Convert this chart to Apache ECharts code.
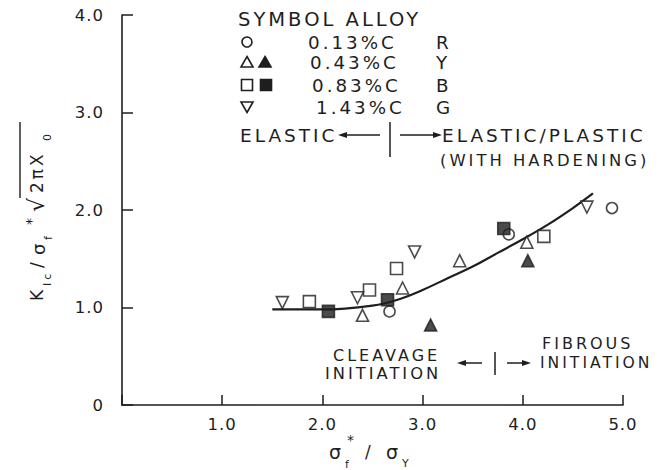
<!DOCTYPE html>
<html><head><meta charset="utf-8">
<script src="https://cdn.jsdelivr.net/npm/echarts@6/dist/echarts.min.js"></script>
<style>html,body{margin:0;padding:0;background:#fff}#c{width:662px;height:470px}#c text{letter-spacing:3px}#c text[style*="16.5px"]{letter-spacing:1px}</style>
</head><body><div id="c"></div>
<script>
// ---- data ----
const yTickLabels = ['0', '1.0', '2.0', '3.0', '4.0'];
const xTickLabels = ['', '1.0', '2.0', '3.0', '4.0', '5.0'];
const c013Open   = [[2.67,0.96],[3.86,1.75],[4.89,2.02]];
const c043Open   = [[2.40,0.92],[2.80,1.20],[3.37,1.48],[4.04,1.67]];
const c043Filled = [[3.08,0.82],[4.05,1.48]];
const c083Open   = [[1.87,1.06],[2.47,1.18],[2.74,1.40],[4.21,1.73]];
const c083Filled = [[2.06,0.96],[2.65,1.08],[3.81,1.81]];
const c143Open   = [[1.60,1.05],[2.35,1.10],[2.92,1.57],[4.64,2.03]];
const fitCurve   = [[1.50,0.98],[2.00,0.98],[2.50,1.02],[2.75,1.08],[3.00,1.18],[3.25,1.30],[3.50,1.42],[3.75,1.56],[4.00,1.70],[4.25,1.85],[4.50,2.02],[4.70,2.17]];
const legendRows = [
  {alloy:'0.13%C', code:'R'},
  {alloy:'0.43%C', code:'Y'},
  {alloy:'0.83%C', code:'B'},
  {alloy:'1.43%C', code:'G'}
];

const INK = '#1e1e1e';
const FF = '"DejaVu Sans", sans-serif';
const chart = echarts.init(document.getElementById('c'), null, {renderer:'svg'});

function T(text, x, y, size, align) {
  const a = align || 'left';
  return {type:'text', x:x, y:y, silent:true,
    style:{text:text, font: size + 'px ' + FF, fill:INK,
      textAlign:a, textVerticalAlign:'middle', align:a, verticalAlign:'middle'}};
}
function L(x1,y1,x2,y2,w){ return {type:'line', silent:true, shape:{x1,y1,x2,y2}, style:{stroke:INK, lineWidth:w||1.5}}; }
function arrowHead(x,y,dir){ // dir -1 left, 1 right
  return {type:'polygon', silent:true, shape:{points:[[x,y],[x-dir*9,y-3],[x-dir*9,y+3]]}, style:{fill:INK}};
}

const openSym = {color:'#fff', borderColor:INK, borderWidth:1.6};
const fillSym = {color:INK, borderColor:INK, borderWidth:1.6};

const rowY = [42, 62, 85, 107];
const alloyX = [308, 310, 312, 316];
const graphic = [
  T('SYMBOL ALLOY', 238, 19, 19.5),
  // legend symbols
  {type:'circle', silent:true, shape:{cx:247, cy:rowY[0], r:5}, style:{fill:'#fff', stroke:INK, lineWidth:1.6}},
  {type:'polygon', silent:true, shape:{points:[[247,rowY[1]-5.5],[253,rowY[1]+5],[241,rowY[1]+5]]}, style:{fill:'#fff', stroke:INK, lineWidth:1.6}},
  {type:'polygon', silent:true, shape:{points:[[265,rowY[1]-5.5],[271,rowY[1]+5],[259,rowY[1]+5]]}, style:{fill:INK, stroke:INK, lineWidth:1.6}},
  {type:'rect', silent:true, shape:{x:241.5, y:rowY[2]-5.5, width:11, height:11}, style:{fill:'#fff', stroke:INK, lineWidth:1.6}},
  {type:'rect', silent:true, shape:{x:260.5, y:rowY[2]-5.5, width:11, height:11}, style:{fill:INK, stroke:INK, lineWidth:1.6}},
  {type:'polygon', silent:true, shape:{points:[[247,rowY[3]+5.5],[253,rowY[3]-5],[241,rowY[3]-5]]}, style:{fill:'#fff', stroke:INK, lineWidth:1.6}},
  // ELASTIC annotation
  T('ELASTIC', 240, 135, 18.5),
  L(380,135,342,135,1.5), arrowHead(338,135,-1),
  L(390,122,390,157,1.5),
  L(400,135,434,135,1.5), arrowHead(442,135,1),
  T('ELASTIC/PLASTIC', 442, 135, 18.5),
  T('(WITH HARDENING)', 440, 160, 16.4),
  // cleavage / fibrous
  T('CLEAVAGE', 333, 355, 16),
  T('INITIATION', 325, 373, 16.3),
  L(482,363,462,363,1.5), arrowHead(457,363,-1),
  L(495,352,495,375,1.5),
  L(507,363,523,363,1.5), arrowHead(531,363,1),
  T('FIBROUS', 542, 343, 16),
  T('INITIATION', 540, 363, 15.6),
  // x axis name  sigma_f* / sigma_Y
  T('σ', 329, 452, 19), T('f', 345, 464, 11), T('*', 347, 440, 14),
  T('/', 365, 452, 17), T('σ', 386, 452, 19), T('Y', 402, 463, 11),
  // y axis name, rotated
  {type:'group', x:37, y:301, rotation:Math.PI/2, silent:true, children:[
    T('K', 0, 0, 17), T('Ic', 15, 10, 11), T('/', 33, 0, 17), T('σ', 46, 1, 18),
    T('f', 61, 11, 11), T('*', 76, -6, 14), T('√', 89, -1, 22),
    L(103,-17,179,-17,1.4),
    T('2πX', 108, 0, 17), T('0', 160, 10, 11)
  ]}
];
rowY.forEach((y,i)=>{
  graphic.push(T(legendRows[i].alloy, alloyX[i], y, 18.3));
  graphic.push(T(legendRows[i].code, 436, y, 18.3));
});

chart.setOption({
  animation:false,
  backgroundColor:'#fff',
  grid:{left:122, right:39, top:15, bottom:65, containLabel:false, outerBoundsMode:'none'},
  xAxis:{type:'value', min:0, max:5, interval:1,
    axisLine:{lineStyle:{color:INK, width:1.6}},
    axisTick:{inside:true, length:10, lineStyle:{color:INK, width:1.5}},
    axisLabel:{color:INK, fontSize:16.5, fontFamily:FF, margin:11, formatter:v=>xTickLabels[Math.round(v)]},
    splitLine:{show:false}},
  yAxis:{type:'value', min:0, max:4, interval:1,
    axisLine:{lineStyle:{color:INK, width:1.6}},
    axisTick:{inside:true, length:11, lineStyle:{color:INK, width:1.5}},
    axisLabel:{color:INK, fontSize:16.5, fontFamily:FF, margin:18, formatter:v=>yTickLabels[Math.round(v)]},
    splitLine:{show:false}},
  graphic:graphic,
  series:[
    {name:'fit', type:'line', data:fitCurve, smooth:0.4, showSymbol:false, lineStyle:{color:INK, width:2.2}, z:1},
    {name:'0.13%C R', type:'scatter', data:c013Open, symbol:'circle', symbolSize:11, itemStyle:openSym, z:3},
    {name:'0.43%C Y', type:'scatter', data:c043Open, symbol:'triangle', symbolSize:12, itemStyle:openSym, z:3},
    {name:'0.43%C Y filled', type:'scatter', data:c043Filled, symbol:'triangle', symbolSize:12, itemStyle:fillSym, z:3},
    {name:'0.83%C B', type:'scatter', data:c083Open, symbol:'rect', symbolSize:12, itemStyle:openSym, z:3},
    {name:'0.83%C B filled', type:'scatter', data:c083Filled, symbol:'rect', symbolSize:12, itemStyle:fillSym, z:3},
    {name:'1.43%C G', type:'scatter', data:c143Open, symbol:'triangle', symbolRotate:180, symbolSize:12, itemStyle:openSym, z:3}
  ]
});
</script></body></html>
